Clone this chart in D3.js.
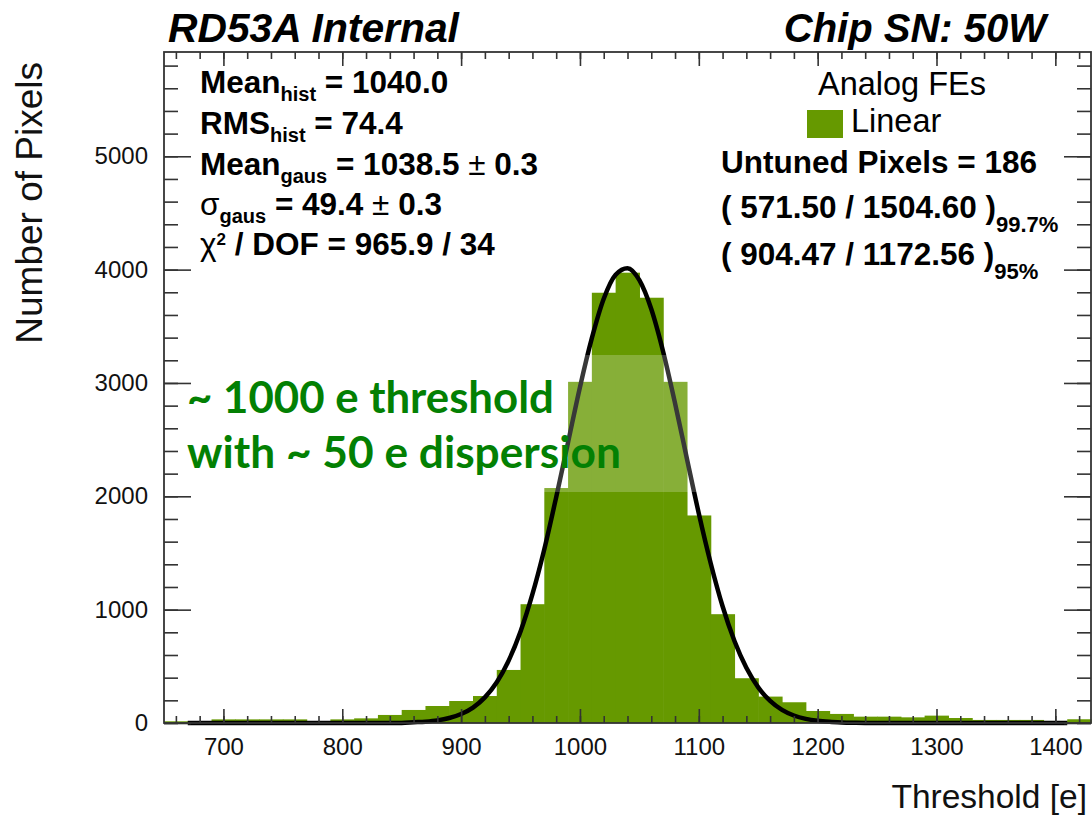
<!DOCTYPE html>
<html><head><meta charset="utf-8">
<script src="https://cdn.jsdelivr.net/npm/d3@7"></script>
<style>body{margin:0;background:#fff} svg{display:block}</style>
</head><body><svg id="c" width="1092" height="818"></svg>
<script>
// ---------- data ----------
const binLow = [650,670,690,710,730,750,770,790,810,830,850,870,890,910,930,950,970,990,1010,1030,1050,1070,1090,1110,1130,1150,1170,1190,1210,1230,1250,1270,1290,1310,1330,1350,1370,1390,1410];
const binWidth = 20;
const counts = [15,15,32,32,32,32,12,32,41,71,115,150,194,238,468,1048,2073,3010,3796,3973,3752,3010,1831,960,395,233,183,106,80,56,56,50,65,44,27,27,27,18,33];
const fitX = [670,680,690,700,710,720,730,740,750,760,770,780,790,800,810,820,830,840,850,860,870,880,890,900,910,920,930,940,950,960,970,980,990,1000,1010,1020,1030,1040,1050,1060,1070,1080,1090,1100,1110,1120,1130,1140,1150,1160,1170,1180,1190,1200,1210,1220,1230,1240,1260,1280,1300,1320,1340,1360,1380,1400,1410];
const fitY = [0,0,0,0,0,0,0,0,0,0,0,0,0,0,0,0,0,0,0,6,12,23,44,79,136,226,359,550,807,1136,1533,1992,2477,2963,3395,3743,3955,4013,3907,3652,3276,2822,2332,1849,1410,1030,723,487,314,195,116,66,36,19,10,5,2,0,0,0,0,0,0,0,0,0,0];
const xTickLabels = [700,800,900,1000,1100,1200,1300,1400];
const xMinorTicks = d3.range(660, 1430, 20);
const yTickLabels = [0,1000,2000,3000,4000,5000];
const yMinorTicks = d3.range(0, 5920, 200);
const statLines = [
  [["Mean","b"],["hist","sub"],[" = 1040.0","b"]],
  [["RMS","b"],["hist","sub"],[" = 74.4","b"]],
  [["Mean","b"],["gaus","sub"],[" = 1038.5 ","b"],["±","n"],[" 0.3","b"]],
  [["σ","n"],["gaus","sub"],[" = 49.4 ","b"],["±","n"],[" 0.3","b"]],
  [["χ","n"],["2","sup"],[" / DOF = 965.9 / 34","b"]]
];
const rightLines = [
  [["Untuned Pixels = 186","b"]],
  [["( 571.50 / 1504.60 )","b"],["99.7%","sub"]],
  [["( 904.47 / 1172.56 )","b"],["95%","sub"]]
];
const legendTitle = "Analog FEs";
const legendLabel = "Linear";
const noteLines = ["~ 1000 e threshold", "with ~ 50 e dispersion"];

// ---------- layout ----------
const svg = d3.select("#c");
const FONT = "'Liberation Sans', Arial, Helvetica, sans-serif";
const green = "#669900";
const L = 164, R = 1091, T = 52, B = 723;
const x = d3.scaleLinear().domain([650, 1430]).range([L, R]);
const y = d3.scaleLinear().domain([0, 5920]).range([B, T]);

svg.append("rect").attr("width",1092).attr("height",818).attr("fill","#fff");

// bars
svg.append("g").selectAll("rect").data(binLow).join("rect")
  .attr("x", d => x(d))
  .attr("width", d => x(d + binWidth) - x(d) + 0.6)
  .attr("y", (d,i) => y(counts[i]))
  .attr("height", (d,i) => y(0) - y(counts[i]))
  .attr("fill", green);

// fit curve
const line = d3.line().x((d,i)=>x(fitX[i])).y(d=>y(d)).curve(d3.curveMonotoneX);
svg.append("path").attr("d", line(fitY)).attr("fill","none")
  .attr("stroke","#000").attr("stroke-width",4.5).attr("stroke-linejoin","round");

// axes
function styleAxis(g){
  g.select(".domain").remove();
  g.selectAll("line").attr("stroke","#333").attr("stroke-width",1.6);
  g.selectAll("text").attr("font-family",FONT).attr("font-size",24).attr("fill","#111");
}
svg.append("g").attr("transform",`translate(0,${B})`)
  .call(d3.axisBottom(x).tickValues(xMinorTicks).tickSizeInner(-7).tickSizeOuter(0).tickFormat("")).call(styleAxis);
svg.append("g").attr("transform",`translate(0,${B})`)
  .call(d3.axisBottom(x).tickValues(xTickLabels).tickSizeInner(-14).tickSizeOuter(0).tickPadding(15).tickFormat(d3.format("d"))).call(styleAxis);
svg.append("g").attr("transform",`translate(0,${T})`)
  .call(d3.axisTop(x).tickValues(xMinorTicks).tickSizeInner(-7).tickSizeOuter(0).tickFormat("")).call(styleAxis);
svg.append("g").attr("transform",`translate(0,${T})`)
  .call(d3.axisTop(x).tickValues(xTickLabels).tickSizeInner(-14).tickSizeOuter(0).tickFormat("")).call(styleAxis);
svg.append("g").attr("transform",`translate(${L},0)`)
  .call(d3.axisLeft(y).tickValues(yMinorTicks).tickSizeInner(-14).tickSizeOuter(0).tickFormat("")).call(styleAxis);
svg.append("g").attr("transform",`translate(${L},0)`)
  .call(d3.axisLeft(y).tickValues(yTickLabels).tickSizeInner(-27).tickSizeOuter(0).tickPadding(16).tickFormat(d3.format("d"))).call(styleAxis);
svg.append("g").attr("transform",`translate(${R},0)`)
  .call(d3.axisRight(y).tickValues(yMinorTicks).tickSizeInner(-14).tickSizeOuter(0).tickFormat("")).call(styleAxis);
svg.append("g").attr("transform",`translate(${R},0)`)
  .call(d3.axisRight(y).tickValues(yTickLabels).tickSizeInner(-27).tickSizeOuter(0).tickFormat("")).call(styleAxis);

// frame
svg.append("rect").attr("x",L).attr("y",T).attr("width",R-L).attr("height",B-T)
  .attr("fill","none").attr("stroke","#333").attr("stroke-width",1.8);

// axis titles
svg.append("text").attr("transform","translate(42,62) rotate(-90)").attr("text-anchor","end")
  .attr("font-family",FONT).attr("font-size",37).attr("fill","#111").text("Number of Pixels");
svg.append("text").attr("x",1087).attr("y",808).attr("text-anchor","end")
  .attr("font-family",FONT).attr("font-size",33.5).attr("fill","#111").text("Threshold [e]");

// header
svg.append("text").attr("x",168).attr("y",42).attr("font-family",FONT).attr("font-size",40.8)
  .attr("font-weight","bold").attr("font-style","italic").text("RD53A Internal");
svg.append("text").attr("x",1046).attr("y",42).attr("text-anchor","end").attr("font-family",FONT).attr("font-size",40)
  .attr("font-weight","bold").attr("font-style","italic").text("Chip SN: 50W");

// rich text helper
function rich(xp, base, parts, size, subSize, subOff){
  const t = svg.append("text").attr("x",xp).attr("y",base).attr("font-family",FONT).attr("font-size",size).attr("fill","#000");
  parts.forEach(([s,k])=>{
    const ts = t.append("tspan").text(s);
    if(k==="b"){ts.attr("font-weight","bold").attr("y",base);}
    else if(k==="n"){ts.attr("font-weight","normal").attr("y",base);}
    else if(k==="sub"){ts.attr("font-weight","bold").attr("font-size",subSize).attr("y",base+subOff);}
    else if(k==="sup"){ts.attr("font-weight","bold").attr("font-size",subSize-3).attr("y",base-10);}
  });
  return t;
}
const statBase = [93,134,175,215,255];
statLines.forEach((p,i)=>rich(200, statBase[i], p, 31.5, 20, 7.5));
const rightBase = [173,218,265];
rightLines.forEach((p,i)=>rich(721, rightBase[i], p, 31.5, 22, 14));

// legend
svg.append("text").attr("x",902).attr("y",95).attr("text-anchor","middle").attr("font-family",FONT)
  .attr("font-size",32.5).attr("fill","#000").text(legendTitle);
svg.append("rect").attr("x",807).attr("y",110).attr("width",36).attr("height",28).attr("fill",green);
svg.append("text").attr("x",851).attr("y",132).attr("font-family",FONT)
  .attr("font-size",32.5).attr("fill","#000").text(legendLabel);

// overlay note box
svg.append("rect").attr("x",192).attr("y",355).attr("width",510).attr("height",137)
  .attr("fill","#fff").attr("fill-opacity",0.22);
const noteBase = [413, 468];
const noteTarget = [367, 434];
noteLines.forEach((s,i)=>{
  const t = svg.append("text").attr("x",187).attr("y",noteBase[i])
    .attr("font-family","Lato, 'Open Sans', sans-serif").attr("font-weight","bold")
    .attr("font-size",40).attr("fill","#038003").text(s);
  const w = t.node().getComputedTextLength();
  t.attr("font-size", 40*noteTarget[i]/w);
});
</script></body></html>
